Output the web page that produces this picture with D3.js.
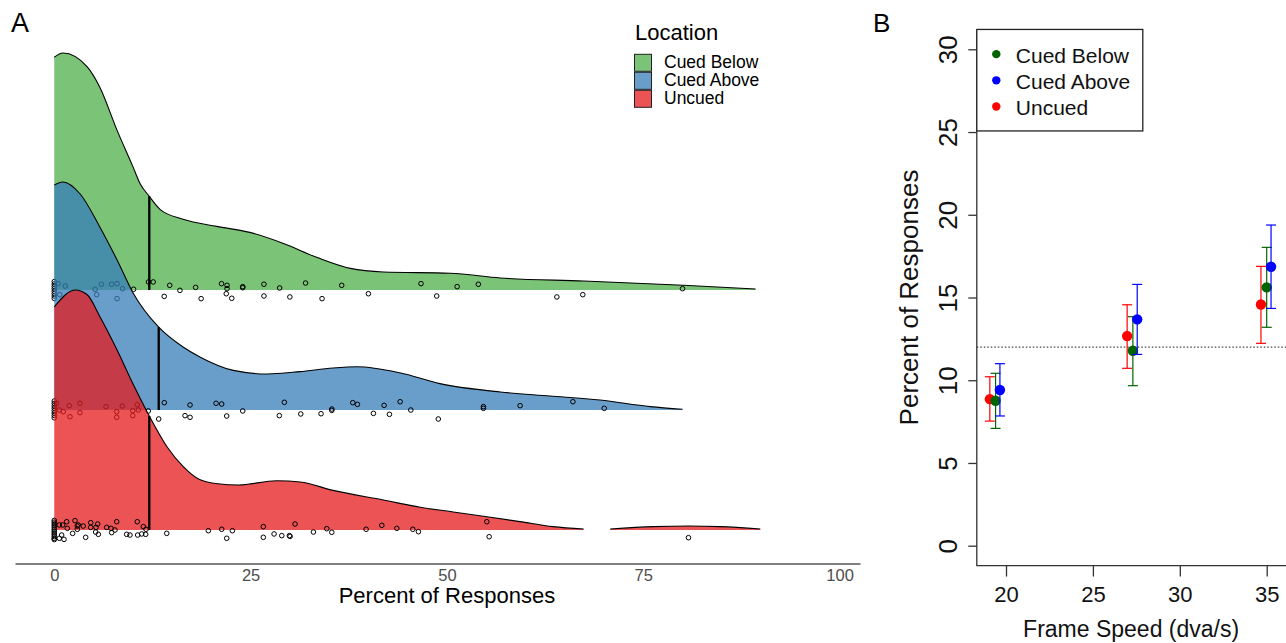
<!DOCTYPE html>
<html>
<head>
<meta charset="utf-8">
<script src="https://cdnjs.cloudflare.com/ajax/libs/d3/7.8.5/d3.min.js"></script>
<style>
    body { margin: 0; background: #fff; }
    svg { display: block; font-family: 'Liberation Sans', Arial, sans-serif; }
</style>
</head>
<body>
<div id="chart"></div>
<script>
'use strict';

// ---- panel A: raincloud of percent of responses ----
const locations = ['Cued Below', 'Cued Above', 'Uncued'];
const ridgeLevels = [3, 2, 1];
const medians = [12.1, 13.3, 12.1];
const percentTicks = [0, 25, 50, 75, 100];

// [percent, density height] per segment
const cuedBelowDensity = [[
    [0, 1.94], [1.1, 1.975], [4.2, 1.86], [5.8, 1.69], [8.0, 1.33], [10.0, 1.03], [10.9, 0.89],
    [12.1, 0.78], [13.5, 0.67], [16.4, 0.59], [20.7, 0.53], [24.9, 0.48], [29.1, 0.39], [33.5, 0.27],
    [37.7, 0.18], [41.9, 0.15], [50.4, 0.14], [56.8, 0.10], [67.4, 0.075], [80.1, 0.04], [89.3, 0.008]
]];
const cuedAboveDensity = [[
    [0, 1.875], [1.1, 1.9], [3.3, 1.8], [5.8, 1.525], [8.0, 1.25], [10.0, 0.98], [13.3, 0.69],
    [16.4, 0.525], [18.6, 0.44], [22.8, 0.33], [27.1, 0.30], [31.3, 0.32], [35.5, 0.35], [38.6, 0.36],
    [44.0, 0.31], [49.1, 0.22], [56.8, 0.15], [63.1, 0.117], [69.5, 0.083], [75.9, 0.028], [80.0, 0.006]
]];
const uncuedDensity = [[
    [0, 1.86], [2.7, 2.0], [4.2, 1.96], [5.8, 1.78], [8.0, 1.5], [10.0, 1.22], [12.1, 0.95],
    [14.4, 0.69], [16.4, 0.53], [18.5, 0.42], [20.8, 0.385], [23.5, 0.375], [28.3, 0.41], [31.3, 0.40],
    [35.5, 0.33], [41.9, 0.25], [46.6, 0.19], [50.8, 0.15], [55.1, 0.11], [59.3, 0.07], [63.5, 0.028],
    [67.4, 0.008]
], [
    [70.8, 0.008], [76.3, 0.028], [80.8, 0.033], [84.8, 0.028], [89.9, 0.008]
]];

// [percent, vertical jitter]
const cuedBelowPoints = [
    [0, 0.07], [0, 0.05], [0, 0.03], [0, 0.01], [0, -0.01], [0, -0.03], [0, -0.05], [0, -0.07],
    [0.5, 0.053], [0.7, -0.039], [1.4, 0.033], [5.2, 0.006], [6.0, 0.048], [5.4, -0.039], [7.3, 0.048],
    [8.0, 0.053], [8.7, 0.011], [8.0, -0.072], [10.1, 0.006], [12.0, 0.067], [12.6, 0.067], [14.7, 0.039],
    [16.0, -0.003], [18.0, 0.022], [21.3, 0.053], [22.0, 0.039], [22.0, 0.011], [24.0, 0.028], [24.0, 0.019],
    [26.7, 0.048], [28.7, 0.017], [32.0, 0.058], [36.6, 0.039], [14.0, -0.053], [18.7, -0.072], [21.9, -0.031],
    [22.6, -0.069], [26.7, -0.05], [30.0, -0.058], [34.1, -0.072], [40.0, -0.031], [46.7, 0.053], [51.3, 0.028],
    [54.0, 0.048], [48.7, -0.05], [64.0, -0.058], [67.3, -0.039], [80.0, 0.011]
];
const cuedAbovePoints = [
    [0, 0.075], [0, 0.055], [0, 0.035], [0, 0.015], [0, -0.005], [0, -0.025], [0, -0.045], [0, -0.065],
    [0.3, 0.056], [0.64, 0], [1.15, -0.014], [1.91, 0.036], [2.0, -0.056], [3.27, 0.056], [3.27, -0.022],
    [6.59, 0.028], [7.95, -0.014], [7.95, -0.061], [8.66, 0.033], [9.99, -0.006], [9.99, -0.047], [10.57, 0.044],
    [10.7, 0], [11.97, -0.008], [14.01, 0.061], [13.3, -0.075], [16.65, -0.047], [17.29, -0.061], [17.29, 0.042],
    [20.6, 0.056], [21.32, 0.05], [21.96, -0.05], [24.0, -0.008], [28.66, -0.047], [29.3, 0.064], [31.39, -0.033],
    [33.97, -0.031], [35.34, 0.008], [35.34, -0.003], [38.01, 0.061], [38.6, 0.047], [40.64, -0.028], [42.0, 0.039],
    [42.68, -0.036], [44.04, 0.069], [45.4, 0], [48.9, -0.075], [54.65, 0.028], [54.65, 0.014], [59.32, 0.036],
    [66.04, 0.069], [70.03, 0.014]
];
const uncuedPoints = [
    [0, 0.08], [0, 0.065], [0, 0.05], [0, 0.035], [0, 0.02], [0, 0.005], [0, -0.01], [0, -0.025],
    [0, -0.04], [0, -0.055], [0, -0.07], [0, -0.08],
    [0.64, 0.042], [0.94, -0.042], [0.64, -0.069], [1.24, -0.078], [1.58, 0.069], [1.66, 0.014], [1.07, 0.042],
    [2.34, -0.028], [2.64, 0.078], [2.93, 0.033], [3.06, 0.042], [2.93, 0.006], [3.69, 0.033], [4.0, -0.061],
    [4.64, 0.061], [4.64, 0.022], [5.31, 0.022], [5.53, 0.05], [5.61, -0.036], [5.27, -0.017], [6.67, 0.022],
    [7.22, 0.014], [7.31, -0.022], [7.73, 0], [7.95, 0.069], [9.22, -0.036], [9.64, -0.042], [10.57, 0.069],
    [10.62, -0.042], [11.13, -0.033], [11.34, 0.028], [11.64, -0.036], [11.68, 0.006], [14.32, -0.028],
    [19.62, -0.006], [21.32, 0.006], [21.96, -0.069], [22.68, -0.006], [26.62, 0.028], [26.62, -0.061],
    [27.99, -0.033], [28.97, -0.047], [29.94, -0.047], [30.03, -0.053], [30.66, 0.05], [33.0, -0.017],
    [34.7, 0.011], [35.34, -0.019], [39.71, 0.006], [41.71, 0.039], [43.62, 0.014], [45.66, 0.006],
    [46.37, -0.014], [55.08, 0.069], [55.38, -0.056], [80.76, -0.064]
];

// ---- panel B: mean percent by frame speed ----
const frameSpeeds = [19.4, 27.3, 35.0];
const speedTicks = [20, 25, 30, 35];
const percentTicksB = [0, 5, 10, 15, 20, 25, 30];
const chanceLevel = 12;

const cuedBelowMean = [8.76, 11.78, 15.61];
const cuedBelowLower = [7.09, 9.67, 13.2];
const cuedBelowUpper = [10.42, 13.84, 18.03];
const cuedAboveMean = [9.41, 13.68, 16.86];
const cuedAboveLower = [7.84, 11.56, 14.34];
const cuedAboveUpper = [11.0, 15.79, 19.38];
const uncuedMean = [8.86, 12.67, 14.58];
const uncuedLower = [7.53, 10.72, 12.23];
const uncuedUpper = [10.21, 14.56, 16.88];

const palette = {
    fills: ['#4DAF4A', '#377EB8', '#E41A1C'],
    points: ['#006400', '#0000FF', '#FF0000']
};

const width = 1286, height = 643;

let svg = d3.select('#chart').append('svg')
    .attr('width', width)
    .attr('height', height);

function heightAt(segments, v) {
    for (let seg of segments) {
        let i = d3.bisector(d => d[0]).left(seg, v);
        if (i < seg.length && seg[i][0] === v) return seg[i][1];
        if (i > 0 && i < seg.length) {
            let a = seg[i - 1], b = seg[i];
            return a[1] + (b[1] - a[1]) * (v - a[0]) / (b[0] - a[0]);
        }
    }
    return 0;
}

function drawRaincloud() {
    let densities = [cuedBelowDensity, cuedAboveDensity, uncuedDensity];
    let points = [cuedBelowPoints, cuedAbovePoints, uncuedPoints];

    let x = d3.scaleLinear().domain([-5, 102.6]).range([15, 860]);
    let y = d3.scaleLinear().domain([1, 3]).range([530, 290]);

    let panel = svg.append('g').classed('panel-a', true);

    locations.forEach((loc, i) => {
        let level = ridgeLevels[i];
        let g = panel.append('g');

        let area = d3.area()
            .x(d => x(d[0]))
            .y0(y(level))
            .y1(d => y(level + d[1]))
            .curve(d3.curveMonotoneX);
        let outline = d3.line()
            .x(d => x(d[0]))
            .y(d => y(level + d[1]))
            .curve(d3.curveMonotoneX);

        densities[i].forEach(seg => {
            g.append('path')
                .attr('d', area(seg))
                .attr('fill', palette.fills[i])
                .attr('fill-opacity', 0.75);
            g.append('path')
                .attr('d', outline(seg))
                .attr('fill', 'none')
                .attr('stroke', '#000')
                .attr('stroke-width', 1.1);
        });

        g.append('line')
            .attr('x1', x(medians[i]))
            .attr('x2', x(medians[i]))
            .attr('y1', y(level))
            .attr('y2', y(level + heightAt(densities[i], medians[i])))
            .attr('stroke', '#000')
            .attr('stroke-width', 2.3);

        g.selectAll('circle')
            .data(points[i])
            .join('circle')
            .attr('cx', d => x(d[0]))
            .attr('cy', d => y(level + d[1]))
            .attr('r', 2.3)
            .attr('fill', 'none')
            .attr('stroke', '#000')
            .attr('stroke-width', 1);
    });

    let axis = d3.axisBottom(x)
        .tickValues(percentTicks)
        .tickSize(0)
        .tickSizeOuter(0)
        .tickPadding(5.5);

    let axisG = panel.append('g')
        .attr('transform', `translate(0, ${563.5})`)
        .call(axis);
    axisG.select('.domain').attr('stroke', '#000').attr('stroke-width', 1.1);
    axisG.selectAll('text')
        .attr('fill', '#4D4D4D')
        .style('font-size', '16.5px')
        .style('font-family', "'Liberation Sans', Arial, sans-serif");

    panel.append('text')
        .attr('x', x(50))
        .attr('y', 603)
        .attr('text-anchor', 'middle')
        .style('font-size', '22px')
        .text('Percent of Responses');

    // legend
    let legend = panel.append('g').attr('transform', 'translate(634, 0)');
    legend.append('text')
        .attr('x', 1)
        .attr('y', 40)
        .style('font-size', '22px')
        .text('Location');

    locations.forEach((loc, i) => {
        let top = 54.3 + i * 18;
        legend.append('rect')
            .attr('x', 0.5)
            .attr('y', top)
            .attr('width', 17)
            .attr('height', 17)
            .attr('fill', palette.fills[i])
            .attr('fill-opacity', 0.75)
            .attr('stroke', '#222')
            .attr('stroke-width', 1);
        legend.append('text')
            .attr('x', 30)
            .attr('y', top + 14)
            .style('font-size', '17.5px')
            .text(loc);
    });

    panel.append('text')
        .attr('x', 11)
        .attr('y', 32)
        .style('font-size', '27px')
        .text('A');
}

function drawSpeedPlot() {
    let means = [cuedBelowMean, cuedAboveMean, uncuedMean];
    let lowers = [cuedBelowLower, cuedAboveLower, uncuedLower];
    let uppers = [cuedBelowUpper, cuedAboveUpper, uncuedUpper];
    let dodge = [0, 0.25, -0.33];

    let x = d3.scaleLinear().domain([20, 35]).range([1006, 1266.7]);
    let y = d3.scaleLinear().domain([0, 30]).range([545.7, 49.3]);

    let left = x(18.32), right = x(36.68), top = y(31.2), bottom = y(-1.2);

    let panel = svg.append('g').classed('panel-b', true);

    panel.append('line')
        .attr('x1', left).attr('x2', right)
        .attr('y1', y(chanceLevel)).attr('y2', y(chanceLevel))
        .attr('stroke', '#444')
        .attr('stroke-width', 1.1)
        .attr('stroke-dasharray', '1.5,2');

    // error bars and points, drawn uncued first
    [2, 0, 1].forEach(i => {
        let g = panel.append('g');
        frameSpeeds.forEach((speed, k) => {
            let cx = x(speed + dodge[i]);
            g.append('line')
                .attr('x1', cx).attr('x2', cx)
                .attr('y1', y(lowers[i][k])).attr('y2', y(uppers[i][k]))
                .attr('stroke', palette.points[i])
                .attr('stroke-width', 1.2);
            [lowers[i][k], uppers[i][k]].forEach(v => {
                g.append('line')
                    .attr('x1', cx - 5).attr('x2', cx + 5)
                    .attr('y1', y(v)).attr('y2', y(v))
                    .attr('stroke', palette.points[i])
                    .attr('stroke-width', 1.2);
            });
        });
        g.selectAll('circle')
            .data(frameSpeeds)
            .join('circle')
            .attr('cx', (d, k) => x(d + dodge[i]))
            .attr('cy', (d, k) => y(means[i][k]))
            .attr('r', 5.2)
            .attr('fill', palette.points[i]);
    });

    // L-shaped frame
    panel.append('path')
        .attr('d', `M${left},${top}V${bottom}H${right}`)
        .attr('fill', 'none')
        .attr('stroke', '#333')
        .attr('stroke-width', 1.3);

    let yAxis = d3.axisLeft(y)
        .tickValues(percentTicksB)
        .tickSize(8.5)
        .tickSizeOuter(0);
    let yG = panel.append('g')
        .attr('transform', `translate(${left}, 0)`)
        .call(yAxis);
    yG.select('.domain').remove();
    yG.selectAll('.tick line').attr('stroke', '#333').attr('stroke-width', 1.3);
    yG.selectAll('.tick text')
        .attr('x', 0)
        .attr('y', -19.7)
        .attr('dy', 0)
        .attr('transform', 'rotate(-90)')
        .attr('text-anchor', 'middle')
        .attr('fill', '#111')
        .style('font-size', '26px')
        .style('font-family', "'Liberation Sans', Arial, sans-serif");

    let xAxis = d3.axisBottom(x)
        .tickValues(speedTicks)
        .tickSize(11)
        .tickSizeOuter(0)
        .tickPadding(9.4);
    let xG = panel.append('g')
        .attr('transform', `translate(0, ${bottom})`)
        .call(xAxis);
    xG.select('.domain').remove();
    xG.selectAll('.tick line').attr('stroke', '#333').attr('stroke-width', 1.3);
    xG.selectAll('.tick text')
        .attr('fill', '#111')
        .style('font-size', '22px')
        .style('font-family', "'Liberation Sans', Arial, sans-serif");

    panel.append('text')
        .attr('x', x(27.2))
        .attr('y', 637)
        .attr('text-anchor', 'middle')
        .attr('fill', '#111')
        .style('font-size', '23px')
        .text('Frame Speed (dva/s)');

    panel.append('text')
        .attr('transform', `translate(918, ${(top + bottom) / 2}) rotate(-90)`)
        .attr('text-anchor', 'middle')
        .attr('fill', '#111')
        .style('font-size', '26px')
        .text('Percent of Responses');

    // legend box
    let legend = panel.append('g').attr('transform', `translate(${left}, ${top})`);
    legend.append('rect')
        .attr('width', 166)
        .attr('height', 101.5)
        .attr('fill', '#fff')
        .attr('stroke', '#222')
        .attr('stroke-width', 1.3);

    locations.forEach((loc, i) => {
        let cy = 24.7 + i * 26.2;
        legend.append('circle')
            .attr('cx', 19.5)
            .attr('cy', cy)
            .attr('r', 4.2)
            .attr('fill', palette.points[i]);
        legend.append('text')
            .attr('x', 39)
            .attr('y', cy + 8.6)
            .attr('fill', '#111')
            .style('font-size', '21px')
            .text(loc);
    });

    panel.append('text')
        .attr('x', 873)
        .attr('y', 32)
        .style('font-size', '26px')
        .text('B');
}

drawRaincloud();
drawSpeedPlot();
</script>
</body>
</html>
